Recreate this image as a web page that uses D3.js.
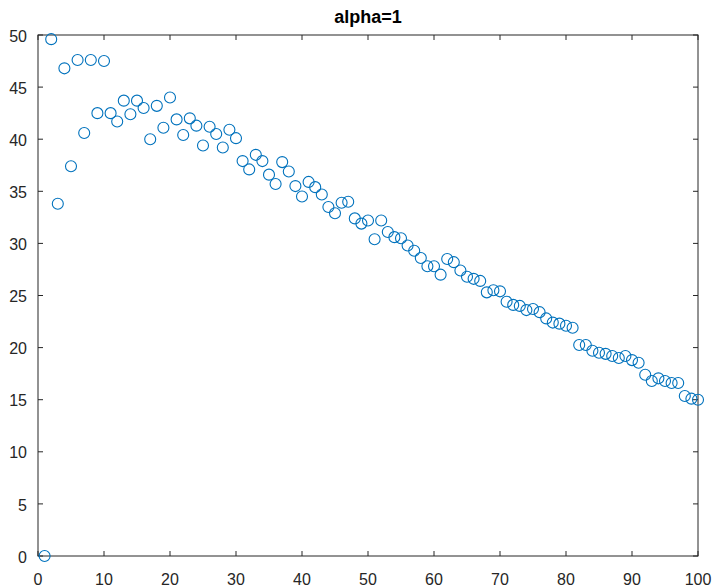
<!DOCTYPE html>
<html><head><meta charset="utf-8">
<script src="https://cdn.jsdelivr.net/npm/d3@7"></script>
<style>body{margin:0;background:#fff;} svg{display:block;}</style>
</head><body>
<svg id="c" width="715" height="588"></svg>
<script>
const title = "alpha=1";
const xValues = d3.range(1, 101);
const yValues = [
 0, 49.6, 33.8, 46.8, 37.4, 47.6, 40.6, 47.6, 42.5, 47.5,
 42.5, 41.7, 43.7, 42.4, 43.7, 43.0, 40.0, 43.2, 41.1, 44.0,
 41.9, 40.4, 42.0, 41.3, 39.4, 41.2, 40.5, 39.2, 40.9, 40.1,
 37.9, 37.1, 38.5, 37.9, 36.6, 35.7, 37.8, 36.9, 35.5, 34.5,
 35.9, 35.4, 34.7, 33.5, 32.9, 33.9, 34.0, 32.4, 31.9, 32.2,
 30.4, 32.2, 31.1, 30.6, 30.5, 29.8, 29.3, 28.6, 27.8, 27.8,
 27.0, 28.5, 28.2, 27.4, 26.8, 26.6, 26.4, 25.3, 25.5, 25.4,
 24.4, 24.1, 24.0, 23.6, 23.7, 23.4, 22.8, 22.4, 22.3, 22.1,
 21.9, 20.25, 20.25, 19.7, 19.5, 19.4, 19.2, 19.0, 19.2, 18.8,
 18.55, 17.4, 16.8, 17.05, 16.8, 16.6, 16.6, 15.35, 15.1, 15.0
];
const xTicks = d3.range(0, 101, 10);
const yTicks = d3.range(0, 51, 5);

(function () {
const mL = 38, mR = 698, mT = 35, mB = 556;
const svg = d3.select("#c");
const x = d3.scaleLinear().domain([0, 100]).range([mL, mR]);
const y = d3.scaleLinear().domain([0, 50]).range([mB, mT]);
const axisColor = "#262626";
const font = "'Liberation Sans', Arial, sans-serif";

svg.append("rect").attr("x", mL).attr("y", mT).attr("width", mR-mL).attr("height", mB-mT)
  .attr("fill", "none").attr("stroke", axisColor).attr("stroke-width", 1);

const tl = 5;
const g = svg.append("g").attr("stroke", axisColor).attr("stroke-width", 1);
xTicks.forEach(t => {
  g.append("line").attr("x1", x(t)).attr("x2", x(t)).attr("y1", mB).attr("y2", mB - tl);
  g.append("line").attr("x1", x(t)).attr("x2", x(t)).attr("y1", mT).attr("y2", mT + tl);
});
yTicks.forEach(t => {
  g.append("line").attr("x1", mL).attr("x2", mL + tl).attr("y1", y(t)).attr("y2", y(t));
  g.append("line").attr("x1", mR).attr("x2", mR - tl).attr("y1", y(t)).attr("y2", y(t));
});

svg.append("g").selectAll("text").data(xTicks).join("text")
  .attr("x", d => x(d)).attr("y", mB + 29).attr("text-anchor", "middle")
  .attr("font-family", font).attr("font-size", 16).attr("fill", axisColor).text(d => d);
svg.append("g").selectAll("text").data(yTicks).join("text")
  .attr("x", mL - 11).attr("y", d => y(d) + 1).attr("dy", "0.35em").attr("text-anchor", "end")
  .attr("font-family", font).attr("font-size", 16).attr("fill", axisColor).text(d => d);

svg.append("text").attr("x", (mL + mR) / 2).attr("y", 23).attr("text-anchor", "middle")
  .attr("font-family", font).attr("font-size", 18).attr("font-weight", "bold").attr("fill", "#000").text(title);

svg.append("g").selectAll("circle").data(xValues.map((d, i) => [d, yValues[i]])).join("circle")
  .attr("cx", d => x(d[0])).attr("cy", d => y(d[1])).attr("r", 5.5)
  .attr("fill", "none").attr("stroke", "#0072BD").attr("stroke-width", 1.1);
})();
</script>
</body></html>
